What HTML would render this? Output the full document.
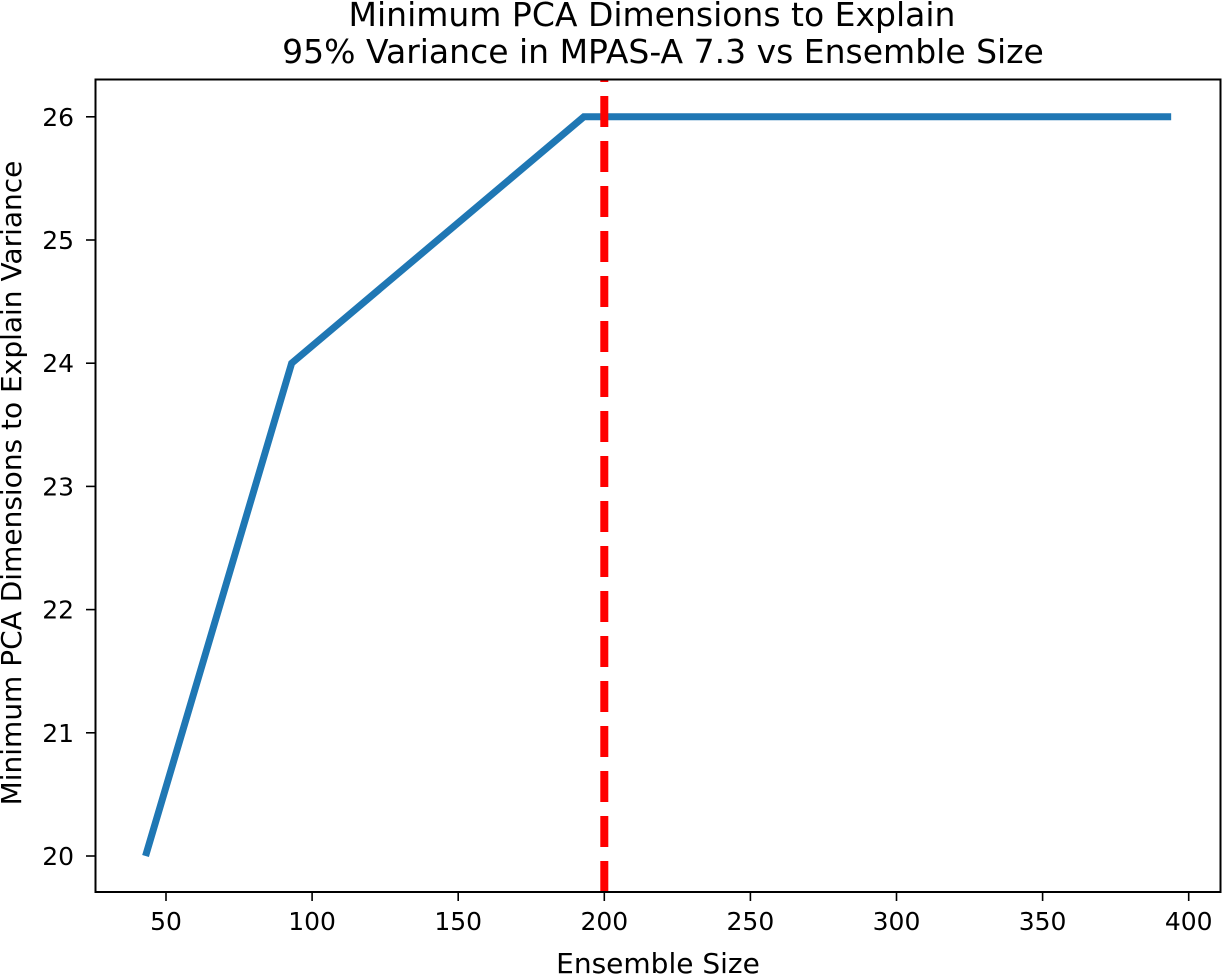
<!DOCTYPE html>
<html><head><meta charset="utf-8"><style>
body{margin:0;background:#fff}
svg text{font-family:"DejaVu Sans","Liberation Sans",sans-serif;fill:#000}
</style></head><body>
<svg id="chart" width="1223" height="975" xmlns="http://www.w3.org/2000/svg">
<text x="652" y="26" font-size="33" text-anchor="middle">Minimum PCA Dimensions to Explain</text>
<text x="663" y="63" font-size="33" text-anchor="middle">95% Variance in MPAS-A 7.3 vs Ensemble Size</text>
<g id="plot"></g>
<rect x="95.5" y="79.5" width="1125" height="812.5" fill="none" stroke="#000" stroke-width="2"/>
<text x="658" y="973" font-size="28" text-anchor="middle">Ensemble Size</text>
<text transform="translate(21,483) rotate(-90)" font-size="28" text-anchor="middle">Minimum PCA Dimensions to Explain Variance</text>
</svg>
<script>
const xTicks=[50,100,150,200,250,300,350,400];
const yTicks=[20,21,22,23,24,25,26];
const ensembleSizes=[43,93,193,394];
const minDims=[20,24,26,26];
const thresholdX=[200];
const NS="http://www.w3.org/2000/svg";
const g=document.getElementById('plot');
const xs=v=>166+(v-50)*2.922;
const ys=v=>856-(v-20)*123.2;
function mk(t,a){const e=document.createElementNS(NS,t);for(const k in a)e.setAttribute(k,a[k]);g.appendChild(e);return e;}
xTicks.forEach(v=>{
 const l=mk('line',{x1:xs(v),x2:xs(v),y1:892,y2:901,stroke:'#000','stroke-width':1.6});
 
 
 const t=mk('text',{x:xs(v),y:930,'font-size':25,'text-anchor':'middle'});t.textContent=v;
 
 
});
yTicks.forEach(v=>{
 const l=mk('line',{x1:86,x2:95,y1:ys(v),y2:ys(v),stroke:'#000','stroke-width':1.6});
 
 
 const t=mk('text',{x:74,y:ys(v)+9,'font-size':25,'text-anchor':'end'});t.textContent=v;
 
 
});
const pts=ensembleSizes.map((v,i)=>xs(v)+','+ys(minDims[i])).join(' ');
const pl=mk('polyline',{points:pts,fill:'none',stroke:'#1f77b4','stroke-width':7,'stroke-linejoin':'miter'});


thresholdX.forEach(v=>{
 const l=mk('line',{x1:xs(v),x2:xs(v),y1:892,y2:80,stroke:'#ff0000','stroke-width':8,'stroke-dasharray':'31 14'});
 
 
});
</script>
</body></html>
